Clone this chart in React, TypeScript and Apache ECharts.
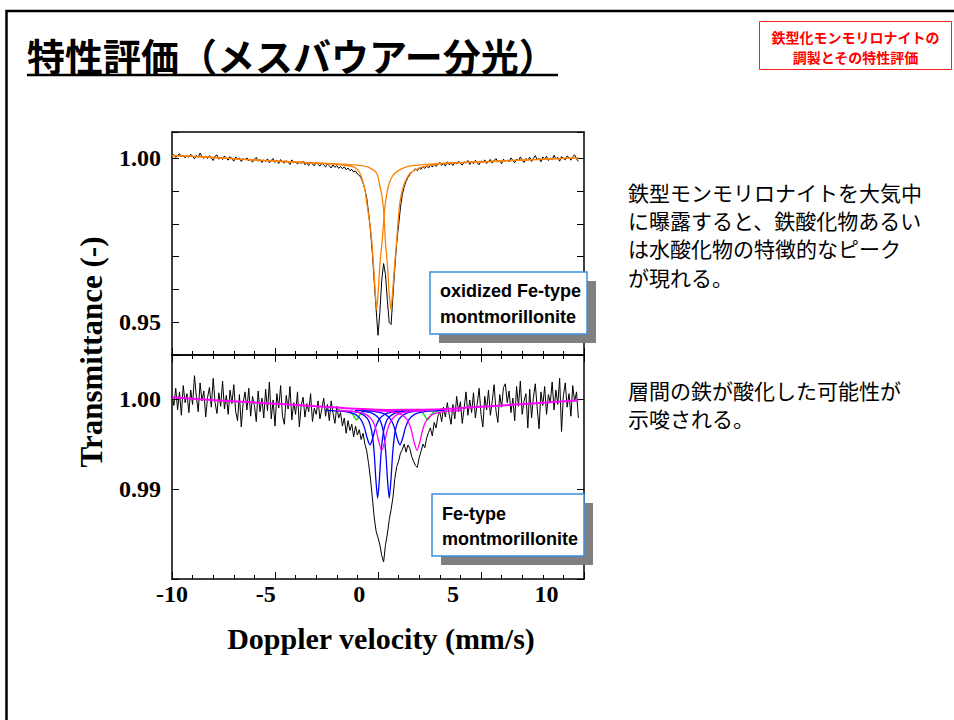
import React, { useEffect, useRef } from "react";
import * as echarts from "echarts";

// ---------- data ----------
const V_START = -10; // mm/s, first channel of the spectra
const V_STEP = 0.1; // mm/s between channels

// oxidized Fe-type montmorillonite, measured transmittance
const TOP_DATA = [
  1.0006, 1.0011, 1.0002, 1.0009, 1.0014, 1.0004, 1.001, 1.0001, 1.0008, 1.0003,
  1.0012, 1.0006, 0.9998, 1.0009, 1.0003, 1.0016, 1.0005, 1.0, 1.0007, 0.9999,
  1.0008, 1.0001, 0.9993, 1.0006, 1.001, 0.9997, 1.0004, 0.9996, 1.0007, 1.0,
  0.9994, 1.0005, 0.9999, 0.9991, 1.0004, 0.9997, 1.0001, 0.999, 0.9999, 0.9995,
  1.0001, 0.9992, 0.9998, 0.9988, 0.9997, 1.0003, 0.9991, 0.9996, 0.9987, 0.9995,
  0.999, 0.9998, 0.9986, 0.9994, 0.9999, 0.9987, 0.9993, 0.9984, 0.9996, 0.9989,
  0.9985, 0.9993, 0.9988, 0.9981, 0.9995, 0.9986, 0.999, 0.9982, 0.9989, 0.9984,
  0.9991, 0.998, 0.9986, 0.9978, 0.9988, 0.9983, 0.9977, 0.9987, 0.9981, 0.9976,
  0.9985, 0.9979, 0.9974, 0.9983, 0.9977, 0.997, 0.998, 0.9972, 0.9978, 0.9969,
  0.9975, 0.9968, 0.9974, 0.9965, 0.997, 0.9962, 0.9966, 0.9958, 0.9961, 0.9952,
  0.9948, 0.994, 0.9925, 0.9905, 0.9878, 0.9832, 0.9778, 0.971, 0.9622, 0.954,
  0.946, 0.953, 0.9628, 0.9679, 0.9645, 0.9566, 0.9499, 0.9493, 0.9583, 0.9668,
  0.9742, 0.9796, 0.985, 0.989, 0.9913, 0.993, 0.9941, 0.995, 0.9957, 0.9962,
  0.9968, 0.9962, 0.9971, 0.9966, 0.9974, 0.9969, 0.9977, 0.997, 0.998, 0.9973,
  0.9983, 0.9975, 0.9981, 0.9987, 0.9978, 0.9984, 0.9976, 0.9989, 0.998, 0.9985,
  0.9978, 0.9988, 0.9982, 0.9991, 0.9984, 0.9979, 0.9989, 0.9985, 0.9993, 0.9981,
  0.999, 0.9983, 0.9994, 0.9986, 0.998, 0.9992, 0.9987, 0.9995, 0.9984, 0.9991,
  0.9996, 0.9985, 0.9993, 0.9999, 0.9988, 0.9994, 0.9983, 0.9997, 0.999, 0.9995,
  0.9989, 1.0001, 0.9994, 0.9986, 0.9998, 0.9992, 1.0004, 0.9993, 0.9987, 0.9999,
  0.9994, 1.0003, 0.999, 1.0, 1.0008, 0.9995, 0.9999, 0.9989, 1.0004, 0.9997,
  1.0006, 0.9993, 1.0001, 0.9996, 1.0009, 0.9998, 1.0003, 0.9991, 1.0005, 1.0,
  0.9995, 1.0007, 1.0002, 0.9994, 1.0005, 1.001, 0.9998, 0.999,
];

// Fe-type montmorillonite, measured transmittance
const BOTTOM_DATA = [
  1.0004, 0.9993, 1.0012, 0.9988, 1.0008, 0.9982, 1.0015, 0.9996, 1.0006, 0.9985,
  1.001, 0.9994, 1.0026, 1.0003, 0.9986, 1.0018, 0.9998, 1.0009, 0.998, 1.0002,
  1.0013, 0.9991, 1.0023, 0.9996, 0.9984, 1.0007, 0.9992, 1.002, 0.9989, 1.0004,
  0.9983, 1.001, 0.9995, 1.0016, 0.9986, 0.9976, 1.0005, 0.9969, 0.9996, 1.0008,
  0.9988, 1.0012, 0.9981, 1.0003, 0.9993, 0.9975, 1.0009, 0.9986, 1.0001, 0.9979,
  1.0011, 0.9987, 1.0019, 0.9978, 0.9999, 0.997, 1.0006, 0.999, 1.0015, 0.9981,
  0.9972, 1.0004, 0.9989, 1.0014, 0.9977, 0.9996, 0.9983, 1.0008, 0.9969, 0.9993,
  1.0002, 0.998, 0.9995, 0.9986, 1.0006, 0.9975, 0.999, 0.9983, 0.9998, 0.9978,
  0.9989, 1.0001, 0.9981, 0.9994, 0.9976, 0.9998, 0.9984, 0.9973, 0.9992, 0.9979,
  0.9985, 0.997, 0.9979, 0.9962, 0.9976, 0.9965, 0.9972, 0.9958, 0.997, 0.996,
  0.9966, 0.9955, 0.9962, 0.995, 0.9942, 0.9928, 0.9911, 0.989, 0.9868, 0.9853,
  0.9846, 0.9838, 0.9826, 0.9819, 0.9838, 0.985, 0.9866, 0.9877, 0.9891, 0.9912,
  0.9925, 0.9931, 0.994, 0.9944, 0.995, 0.9941, 0.9949, 0.9945, 0.9936, 0.9931,
  0.9926, 0.9924, 0.9935, 0.9942, 0.995, 0.9946, 0.9957, 0.9963, 0.9968, 0.9959,
  0.9974, 0.9968, 0.9981, 0.9986, 0.9975, 0.9991, 0.998, 0.9996, 0.9983, 0.9972,
  0.9994, 0.9978, 1.0003, 0.9986, 0.9997, 0.9973, 0.999, 1.0008, 0.9982, 0.9999,
  0.9985, 1.0007, 0.9979, 0.9995, 1.0012, 0.9983, 0.9969, 1.0003, 0.9988, 1.001,
  0.9982, 0.9998, 1.0016, 0.9987, 0.9974, 1.0005, 0.9991, 1.0013, 1.0017, 0.9996,
  1.0009, 0.9985, 1.0001, 0.9976, 1.0014, 0.9992, 1.002, 0.9983, 0.9998, 1.0006,
  0.9968, 1.0011, 0.9979, 1.0002, 1.0017, 0.999, 0.9967, 1.0008, 0.9993, 1.0014,
  0.9983, 1.0005, 0.9996, 1.0019, 0.9988, 1.001, 0.9994, 1.0023, 0.9964, 1.0004,
  1.0018, 0.9991, 1.0006, 0.9981, 1.0015, 0.9997, 1.0008, 0.9979,
];

// fitted components, top panel (orange)
const TOP_FIT_A: [number, number][] = [
  [-10, 1.0008], [-8, 1.0003], [-6, 0.9996], [-4, 0.999], [-2.5, 0.99855], [-1.5, 0.99825],
  [-1, 0.998], [-0.5, 0.9977], [-0.2, 0.997], [0, 0.9958], [0.15, 0.9937], [0.3, 0.9904],
  [0.4, 0.9866], [0.48, 0.9833], [0.58, 0.9795], [0.66, 0.9752], [0.74, 0.969], [0.79, 0.9649],
  [0.86, 0.9585], [0.93, 0.9539], [1.0, 0.9585], [1.07, 0.9649], [1.12, 0.969], [1.23, 0.9751],
  [1.3, 0.9805], [1.37, 0.9852], [1.46, 0.9888], [1.55, 0.9913], [1.7, 0.9938], [1.9, 0.9954],
  [2.2, 0.9966], [2.53, 0.9974], [3.0, 0.9978], [3.78, 0.9982], [5, 0.9986], [7, 0.999],
  [9, 0.9995], [11.7, 1.0001],
];
const TOP_FIT_B: [number, number][] = [
  [-10, 1.0008], [-8, 1.0003], [-6, 0.9996], [-4, 0.999], [-2.5, 0.99858], [-1, 0.9982],
  [0, 0.9978], [0.5, 0.9972], [0.93, 0.9954], [1.11, 0.9913], [1.2, 0.9888], [1.28, 0.9852],
  [1.34, 0.9805], [1.39, 0.9751], [1.48, 0.969], [1.534, 0.9649], [1.6, 0.9585], [1.694, 0.9539],
  [1.77, 0.9585], [1.854, 0.9649], [1.91, 0.969], [2.0, 0.9751], [2.07, 0.9805], [2.14, 0.9852],
  [2.24, 0.9888], [2.35, 0.9913], [2.5, 0.9935], [2.71, 0.9954], [3.0, 0.9965], [3.4, 0.9974],
  [4.3, 0.9983], [5, 0.9986], [7, 0.999], [9, 0.9995], [11.7, 1.0001],
];

// fitted components, bottom panel
const BOTTOM_BASE: [number, number][] = [
  [-10, 1.0002], [-7.5, 0.99985], [-5, 0.99955], [-2.5, 0.99922], [-0.5, 0.99895], [1.5, 0.9988],
  [3.5, 0.99881], [4.3, 0.99886], [6, 0.99908], [8, 0.99935], [10, 0.99962], [11.7, 0.99988],
];
const BLUE_INNER_1: [number, number][] = [
  [-0.5, 0.99866], [0.08, 0.99842], [0.44, 0.99782], [0.62, 0.99684], [0.71, 0.99579], [0.8, 0.9939],
  [0.89, 0.99096], [0.98, 0.989], [1.07, 0.99096], [1.16, 0.9939], [1.25, 0.99579], [1.34, 0.99684],
  [1.52, 0.99782], [1.88, 0.99842], [2.46, 0.99866],
];
const BLUE_INNER_2: [number, number][] = [
  [0.12, 0.99866], [0.7, 0.99842], [1.06, 0.99782], [1.24, 0.99684], [1.33, 0.99579], [1.42, 0.9939],
  [1.51, 0.99096], [1.6, 0.989], [1.69, 0.99096], [1.78, 0.9939], [1.87, 0.99579], [1.96, 0.99684],
  [2.14, 0.99782], [2.5, 0.99842], [3.08, 0.99866],
];
const BLUE_OUTER_1: [number, number][] = [
  [-1.83, 0.99874], [-0.93, 0.99865], [-0.33, 0.99841], [-0.03, 0.99802], [0.12, 0.9976], [0.27, 0.99685],
  [0.42, 0.99568], [0.57, 0.9949], [0.72, 0.99568], [0.87, 0.99685], [1.02, 0.9976], [1.17, 0.99802],
  [1.47, 0.99841], [2.07, 0.99865], [2.97, 0.99874],
];
const BLUE_OUTER_2: [number, number][] = [
  [-0.23, 0.99874], [0.67, 0.99865], [1.27, 0.99841], [1.57, 0.99802], [1.72, 0.9976], [1.87, 0.99685],
  [2.02, 0.99568], [2.17, 0.9949], [2.32, 0.99568], [2.47, 0.99685], [2.62, 0.9976], [2.77, 0.99802],
  [3.07, 0.99841], [3.67, 0.99865], [4.57, 0.99874],
];
const MAGENTA_1: [number, number][] = [
  [-1.2, 0.99873], [-0.3, 0.99863], [0.3, 0.99835], [0.6, 0.9979], [0.75, 0.99742], [0.9, 0.99655],
  [1.05, 0.9952], [1.2, 0.9943], [1.35, 0.9952], [1.5, 0.99655], [1.65, 0.99742], [1.8, 0.9979],
  [2.1, 0.99835], [2.7, 0.99863], [3.6, 0.99873],
];
const MAGENTA_2: [number, number][] = [
  [0.68, 0.99873], [1.58, 0.99863], [2.18, 0.99835], [2.48, 0.9979], [2.63, 0.99742], [2.78, 0.99655],
  [2.93, 0.9952], [3.08, 0.9943], [3.23, 0.9952], [3.38, 0.99655], [3.53, 0.99742], [3.68, 0.9979],
  [3.98, 0.99835], [4.58, 0.99863], [5.48, 0.99873],
];
const GREEN: [number, number][] = [
  [-1.2, 0.9988], [-0.69, 0.99869], [-0.51, 0.99858], [-0.42, 0.99846], [-0.33, 0.99825], [-0.24, 0.99792],
  [-0.15, 0.9977], [-0.06, 0.99792], [0.03, 0.99825], [0.12, 0.99846], [0.21, 0.99858], [0.39, 0.99869],
  [1.5, 0.99875], [3.11, 0.99869], [3.29, 0.99858], [3.38, 0.99846], [3.47, 0.99825], [3.56, 0.99792],
  [3.65, 0.9977], [3.74, 0.99792], [3.83, 0.99825], [3.92, 0.99846], [4.01, 0.99858], [4.19, 0.99869],
  [4.7, 0.9988],
];

const X_TICK_LABELS = [-10, -5, 0, 5, 10];
const X_MAJOR_TICK_STEP = 5.5; // the plot's tick marks: 4 major divisions, 5 minor each
const TOP_Y_TICK_LABELS = [1.0, 0.95];
const BOTTOM_Y_TICK_LABELS = [1.0, 0.99];

const TITLE = "特性評価（メスバウアー分光）";
const BADGE_LINES = ["鉄型化モンモリロナイトの", "調製とその特性評価"];
const NOTE_1 = ["鉄型モンモリロナイトを大気中", "に曝露すると、鉄酸化物あるい", "は水酸化物の特徴的なピーク", "が現れる。"];
const NOTE_2 = ["層間の鉄が酸化した可能性が", "示唆される。"];
const TOP_LEGEND = ["oxidized Fe-type", "montmorillonite"];
const BOTTOM_LEGEND = ["Fe-type", "montmorillonite"];

// ---------- helpers ----------
const toPairs = (values: number[]) => values.map((t, i) => [Number((V_START + i * V_STEP).toFixed(2)), t]);
const near = (list: number[], v: number) => list.some((t) => Math.abs(t - v) < 1e-6);

const SERIF = "'Liberation Serif', 'Times New Roman', serif";
const CJK = "'Noto Sans CJK JP', 'Noto Sans', sans-serif";
const NARROW = "'Liberation Sans Narrow', 'Arial Narrow', 'Liberation Sans', Arial, sans-serif";

const axisLine = { show: true, onZero: false, lineStyle: { color: "#000", width: 1.5 } };
const tickStyle = { color: "#000", width: 1 };

function xAxisDef(gridIndex: number, position: "top" | "bottom", ticks: boolean, labels: boolean, extra: any = {}) {
  return {
    type: "value",
    gridIndex,
    position,
    min: -10,
    max: 12,
    interval: X_MAJOR_TICK_STEP,
    axisLine,
    axisTick: { show: ticks, inside: true, length: 7, lineStyle: tickStyle },
    minorTick: { show: ticks, splitNumber: 5, length: 4, lineStyle: tickStyle },
    axisLabel: labels
      ? {
          show: true,
          margin: 3,
          fontFamily: SERIF,
          fontWeight: "bold",
          fontSize: 24,
          color: "#000",
          customValues: X_TICK_LABELS,
          formatter: (v: number) => (near(X_TICK_LABELS, v) ? String(Math.round(v)) : ""),
        }
      : { show: false },
    splitLine: { show: false },
    minorSplitLine: { show: false },
    ...extra,
  };
}

function yAxisDef(gridIndex: number, position: "left" | "right", min: number, max: number, labels: number[] | null) {
  return {
    type: "value",
    gridIndex,
    position,
    min,
    max,
    interval: 0.01,
    axisLine,
    axisTick: { show: true, inside: true, length: 7, lineStyle: tickStyle },
    axisLabel: labels
      ? {
          show: true,
          margin: 11,
          fontFamily: SERIF,
          fontWeight: "bold",
          fontSize: 24,
          color: "#000",
          formatter: (v: number) => (near(labels, v) ? v.toFixed(2) : ""),
        }
      : { show: false },
    splitLine: { show: false },
  };
}

function lineSeries(data: any[], xAxisIndex: number, yAxisIndex: number, color: string, width: number, z: number, smooth: any = false) {
  return {
    type: "line",
    data,
    xAxisIndex,
    yAxisIndex,
    showSymbol: false,
    symbol: "none",
    smooth,
    lineStyle: { color, width },
    z,
    silent: true,
  };
}

function legendBox(x: number, y: number, w: number, h: number, lines: string[], tx: number, ty: number[]) {
  return [
    { type: "rect", z: 100, shape: { x: x + 9, y: y + 9, width: w, height: h }, style: { fill: "#808080" } },
    { type: "rect", z: 101, shape: { x, y, width: w, height: h }, style: { fill: "#fff", stroke: "#3a8ee0", lineWidth: 1.5 } },
    ...lines.map((t, i) => ({
      type: "text",
      z: 102,
      x: tx,
      y: ty[i],
      style: { text: t, font: `bold 18px ${NARROW}`, fill: "#000", verticalAlign: "middle", align: "left" },
    })),
  ];
}

export default function App() {
  const ref = useRef<HTMLDivElement>(null);

  useEffect(() => {
    document.body.style.margin = "0";
    if (!ref.current) return;
    const chart = echarts.init(ref.current, undefined, { renderer: "svg" });

    const option: any = {
      animation: false,
      backgroundColor: "#fff",
      grid: [
        { left: 172, top: 132, width: 412, height: 223 },
        { left: 172, top: 355, width: 412, height: 224 },
      ],
      xAxis: [
        xAxisDef(0, "bottom", true, false),
        xAxisDef(0, "top", false, false),
        xAxisDef(1, "bottom", true, true, {
          name: "Doppler velocity (mm/s)",
          nameLocation: "middle",
          nameGap: 44,
          nameTextStyle: { fontFamily: SERIF, fontWeight: "bold", fontSize: 30, color: "#000", padding: [0, 0, 0, 6] },
        }),
        xAxisDef(1, "top", true, false),
      ],
      yAxis: [
        yAxisDef(0, "left", 0.94, 1.008, TOP_Y_TICK_LABELS),
        yAxisDef(0, "right", 0.94, 1.008, null),
        yAxisDef(1, "left", 0.98, 1.0049, BOTTOM_Y_TICK_LABELS),
        yAxisDef(1, "right", 0.98, 1.0049, null),
      ],
      series: [
        lineSeries(toPairs(TOP_DATA), 0, 0, "#000", 1, 2),
        lineSeries(TOP_FIT_A, 0, 0, "#ff8000", 1.3, 3, 0.25),
        lineSeries(TOP_FIT_B, 0, 0, "#ff8000", 1.3, 3, 0.25),
        lineSeries(toPairs(BOTTOM_DATA), 2, 2, "#000", 1, 2),
        lineSeries(GREEN, 2, 2, "#00e000", 1.3, 3, 0.25),
        lineSeries(BLUE_OUTER_1, 2, 2, "#0000ff", 1.3, 4, 0.25),
        lineSeries(BLUE_OUTER_2, 2, 2, "#0000ff", 1.3, 4, 0.25),
        lineSeries(BLUE_INNER_1, 2, 2, "#0000ff", 1.3, 4, 0.25),
        lineSeries(BLUE_INNER_2, 2, 2, "#0000ff", 1.3, 4, 0.25),
        lineSeries(MAGENTA_1, 2, 2, "#ff00ff", 1.3, 5, 0.25),
        lineSeries(MAGENTA_2, 2, 2, "#ff00ff", 1.3, 5, 0.25),
        lineSeries(BOTTOM_BASE, 2, 2, "#ff00ff", 2, 5, 0.25),
      ],
      graphic: [
        // slide frame
        { type: "polyline", z: 50, shape: { points: [[6.5, 720], [6.5, 11], [960, 11]] }, style: { stroke: "#000", lineWidth: 2.5, fill: null } },
        // title
        { type: "text", z: 50, x: 27, y: 54, style: { text: TITLE, font: `bold 38px ${CJK}`, fill: "#000", verticalAlign: "middle" } },
        { type: "line", z: 50, shape: { x1: 27, y1: 75, x2: 558, y2: 75 }, style: { stroke: "#000", lineWidth: 2.5 } },
        // badge
        { type: "rect", z: 50, shape: { x: 759.5, y: 21.5, width: 192, height: 48 }, style: { fill: "#fff", stroke: "#ff2020", lineWidth: 1 } },
        ...BADGE_LINES.map((t, i) => ({
          type: "text", z: 51, x: 855.5, y: 36.5 + i * 20,
          style: { text: t, font: `bold 14px ${CJK}`, fill: "#ff0000", align: "center", verticalAlign: "middle" },
        })),
        // notes
        ...NOTE_1.map((t, i) => ({
          type: "text", z: 50, x: 628, y: 191.5 + i * 28.4,
          style: { text: t, font: `21px ${CJK}`, fill: "#000", verticalAlign: "middle" },
        })),
        ...NOTE_2.map((t, i) => ({
          type: "text", z: 50, x: 628, y: 390 + i * 28.4,
          style: { text: t, font: `21px ${CJK}`, fill: "#000", verticalAlign: "middle" },
        })),
        // y axis title spanning both panels
        {
          type: "text", z: 50, x: 91, y: 352, rotation: Math.PI / 2,
          style: { text: "Transmittance (-)", font: `bold 31px ${SERIF}`, fill: "#000", align: "center", verticalAlign: "middle" },
        },
        // legend boxes
        ...legendBox(430, 272, 157, 62, TOP_LEGEND, 440, [291, 316.5]),
        ...legendBox(432, 494, 152, 62, BOTTOM_LEGEND, 442, [513.5, 538.5]),
      ],
    };

    chart.setOption(option);
    return () => chart.dispose();
  }, []);

  return <div ref={ref} style={{ width: 954, height: 720 }} />;
}
